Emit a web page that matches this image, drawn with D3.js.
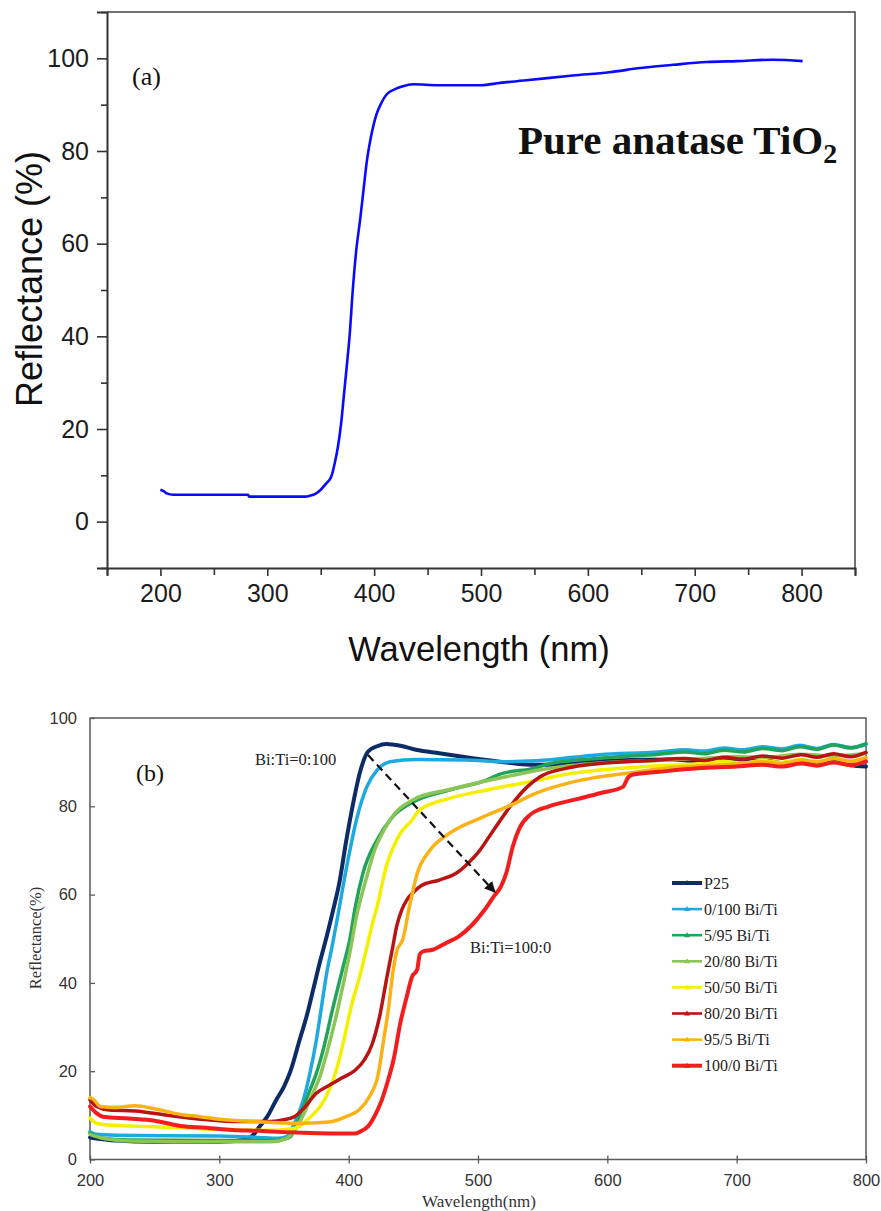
<!DOCTYPE html>
<html>
<head>
<meta charset="utf-8">
<script src="https://cdn.jsdelivr.net/npm/d3@7"></script>
<style>
  html, body { margin: 0; padding: 0; background: #fff; }
  svg { display: block; }
</style>
</head>
<body>
<svg id="fig" width="881" height="1211"></svg>
<script>
// ---------- data: panel (a) pure anatase ----------
const anataseNm = [200,203,206,212,250,282,283,335,340,345,350,355,360,363,366,369,372,375,377,380,383,387,390,393,397,402,407,411.6,420,427,436.5,460,500,518,540,586,620,649,680,711,740,773,801];
const anataseR  = [6.9,6.6,6.1,5.8,5.8,5.8,5.4,5.4,5.6,6,6.9,8.2,9.8,12.5,16,21,28,35,40,50,58,65.4,71.5,77.5,83,87.8,90.5,92.2,93.4,94,94.4,94.2,94.2,94.7,95.2,96.3,97,97.9,98.6,99.2,99.4,99.7,99.4];

// ---------- data: panel (b) Bi/Ti series ----------
const seriesNames  = ["P25","0/100 Bi/Ti","5/95 Bi/Ti","20/80 Bi/Ti","50/50 Bi/Ti","80/20 Bi/Ti","95/5 Bi/Ti","100/0 Bi/Ti"];
const seriesColors = ["#0d2b66","#1ea9e1","#22a35c","#8cc455","#f5f000","#b81414","#fbb215","#f21d1d"];

const p25 = [[200,5],[220,4.3],[250,4],[300,4],[320,4.5],[326,5.5],[331,7.4],[337,9.7],[344,13.5],[350,16.5],[355,20],[362,27],[368,33],[373,39],[378,45],[383,50.5],[388,56.5],[393,63],[398,72],[403,80],[409,88],[415,92.4],[422,93.6],[429,94.1],[440,93.7],[452,92.8],[470,92],[496,90.9],[520,90],[540,89.4],[560,89.4],[580,89.8],[600,90.3],[650,90.6],[670,90.2],[690,90.7],[705,90.1],[720,90.5],[735,89.8],[750,90.4],[762,89.5],[775,90.1],[788,89.3],[800,89]];
const bt0_100 = [[200,6.3],[205,5.7],[220,5.5],[300,5.3],[330,5],[345,4.8],[352,5.2],[358,8.2],[365,13.5],[370,19.5],[375,27],[379,34.6],[383,42.2],[387,48],[391,54.2],[398,65.6],[406,76.9],[414,84.4],[422,88.2],[432,90.1],[452,90.6],[490,90.5],[520,90.1],[545,90.3],[594,91.7],[640,92.3],[660,92.8],[675,92.5],[690,93.2],[705,92.8],[720,93.5],[735,93],[749,93.8],[762,93.1],[775,94],[788,93.3],[800,94]];
const bt5_95 = [[200,6],[210,4.8],[230,4.4],[300,4.3],[340,4.3],[350,4.6],[355,5.2],[362,9.7],[370,15.7],[375,19.5],[380,24.5],[388,34.6],[396,44],[401,50],[405,57],[411,64.8],[422,72.4],[434,77.6],[450,81],[478,83.7],[507,86],[517,87.3],[543,88.6],[556,89.7],[594,90.9],[640,91.8],[660,92.3],[675,91.9],[690,92.7],[705,92.3],[720,93.1],[735,92.6],[749,93.5],[762,92.9],[775,93.9],[788,93.2],[800,94.2]];
const bt20_80 = [[200,5.7],[210,4.8],[230,4.2],[300,4],[340,4],[352,4.8],[358,6.5],[364,9.5],[370,13.5],[378,19],[383,24],[390,32],[396,40],[401,47],[406,55],[413,63],[420,70],[428,75],[436,78.5],[450,81.5],[478,83.8],[507,85.8],[530,87.2],[543,88],[560,88.8],[594,89.8],[640,90.4],[672,90.8],[700,91.3],[720,91],[749,91.8],[775,91.4],[800,92]];
const bt50_50 = [[200,9.4],[205,8.2],[215,7.8],[250,7.4],[300,6.8],[340,6.6],[355,6.9],[362,7.5],[370,9.5],[378,12],[383,14.5],[388,18],[393,23],[397,28],[402,34.6],[409,42],[414,48],[418,53],[422,57.3],[429,66.3],[435,71],[440,73.9],[448,76.5],[455,79.2],[478,81.8],[507,83.7],[530,85],[543,85.7],[560,86.8],[594,88.2],[630,89],[672,89.7],[690,90.2],[705,89.8],[720,90.4],[735,89.9],[749,90.6],[762,90.1],[775,90.8],[788,90.2],[800,91]];
const bt80_20 = [[200,13.5],[205,12],[215,11.2],[235,11],[260,10],[280,9.3],[300,8.8],[320,8.6],[340,8.6],[350,9],[358,9.7],[365,11.5],[375,15],[385,16.8],[395,18.5],[405,20.2],[412,22.5],[418,26],[424,32.5],[430,42],[434,48],[437,52.7],[441,56.5],[445,58.8],[450,60.5],[456,62],[470,63.3],[484,65],[492,67],[500,69.5],[512,74.6],[525,80],[538,84.4],[548,86.7],[568,88.6],[594,89.7],[630,90.3],[660,90.8],[675,90.4],[690,91.1],[705,90.7],[720,91.4],[735,90.9],[750,91.7],[762,91.1],[775,91.9],[788,91.2],[800,92.2]];
const bt95_5 = [[200,14],[203,13.5],[208,12],[220,11.8],[235,12.2],[250,11.5],[270,10.2],[285,9.7],[300,9.1],[320,8.7],[340,8.4],[360,8.2],[385,8.5],[398,9.7],[408,11.2],[416,14.2],[423,19.5],[427,27],[431,34.6],[434,42],[437,47],[442,50],[447,57.3],[453,64.8],[463,70.1],[478,73.9],[504,77.6],[525,80.2],[545,83],[569,85.2],[590,86.5],[615,87.5],[650,88.8],[700,89.6],[720,90.1],[735,89.7],[750,90.5],[762,90],[775,90.8],[788,90.2],[800,91]];
const bt100_0 = [[200,12],[205,10.5],[210,9.7],[230,9.3],[250,8.8],[270,7.6],[290,7.2],[310,6.7],[330,6.5],[350,6.2],[370,6],[390,5.9],[405,5.9],[410,6.5],[415,7.5],[420,9.8],[425,13],[430,17.5],[435,23],[440,31],[445,37],[449,41.4],[453,43],[455,46.5],[458,47.2],[465,47.5],[475,49],[485,50.5],[495,53],[505,56.5],[512,59.5],[518,62],[522,65],[527,71],[532,75],[540,78],[555,80],[575,81.5],[595,83],[612,84.4],[616,86.5],[620,87.2],[640,87.8],[670,88.6],[700,89],[720,89.4],[735,89],[750,89.7],[762,89.2],[775,89.9],[788,89.3],[800,90.2]];
const seriesData = [p25, bt0_100, bt5_95, bt20_80, bt50_50, bt80_20, bt95_5, bt100_0];
const seriesWidths = [4, 3.5, 3.5, 3.5, 3.5, 3.5, 3.5, 4];

const ticksA_x = [200,300,400,500,600,700,800];
const ticksA_y = [0,20,40,60,80,100];
const ticksB_x = [200,300,400,500,600,700,800];
const ticksB_y = [0,20,40,60,80,100];

const svg = d3.select("#fig");

// ======================= panel (a) =======================
const xa = d3.scaleLinear().domain([150, 850]).range([107, 855]);
const ya = d3.scaleLinear().domain([-10, 110]).range([568, 12]);
const ga = svg.append("g").attr("font-family", "'Liberation Sans', Arial, sans-serif");

// frame (top + right)
ga.append("path")
  .attr("d", `M${xa(150)},${ya(110)}H${xa(850)}V${ya(-10)}`)
  .attr("fill", "none").attr("stroke", "#444").attr("stroke-width", 1.5);

// x axis: minor then major
ga.append("g").attr("transform", `translate(0,${ya(-10)})`)
  .call(d3.axisBottom(xa).tickValues(d3.range(150, 851, 100)).tickSize(7).tickFormat(""))
  .call(g => g.select(".domain").remove());
ga.append("g").attr("transform", `translate(0,${ya(-10)})`)
  .call(d3.axisBottom(xa).tickValues(ticksA_x).tickSize(8).tickPadding(8))
  .call(g => g.select(".domain").attr("stroke-width", 2).attr("stroke", "#333"))
  .call(g => g.selectAll(".tick text").attr("font-size", 25).attr("fill", "#1c1c1c"));
ga.selectAll(".tick line").attr("stroke", "#333").attr("stroke-width", 1.6);

// y axis
ga.append("g").attr("transform", `translate(${xa(150)},0)`)
  .call(d3.axisLeft(ya).tickValues([-10,10,30,50,70,90,110]).tickSize(6).tickFormat(""))
  .call(g => g.select(".domain").remove());
ga.append("g").attr("transform", `translate(${xa(150)},0)`)
  .call(d3.axisLeft(ya).tickValues(ticksA_y).tickSize(10).tickPadding(8))
  .call(g => g.select(".domain").attr("stroke-width", 2).attr("stroke", "#333"))
  .call(g => g.selectAll(".tick text").attr("font-size", 25).attr("fill", "#1c1c1c"));
ga.selectAll(".tick line").attr("stroke", "#333").attr("stroke-width", 1.6);

ga.append("text").attr("x", 479).attr("y", 661).attr("text-anchor", "middle")
  .attr("font-size", 34.5).attr("fill", "#111").text("Wavelength (nm)");
ga.append("text").attr("transform", "translate(42,279) rotate(-90)").attr("text-anchor", "middle")
  .attr("font-size", 36).attr("fill", "#111").text("Reflectance (%)");

const lineA = d3.line().x((d, i) => xa(anataseNm[i])).y(d => ya(d)).curve(d3.curveMonotoneX);
ga.append("path").datum(anataseR).attr("d", lineA)
  .attr("fill", "none").attr("stroke", "#0a0aff").attr("stroke-width", 2.6);

ga.append("text").attr("x", 132).attr("y", 85).attr("font-family", "'Liberation Serif', 'Times New Roman', serif")
  .attr("font-size", 26).attr("fill", "#111").text("(a)");
const title = ga.append("text").attr("x", 518).attr("y", 154)
  .attr("font-family", "'Liberation Serif', 'Times New Roman', serif")
  .attr("font-weight", "bold").attr("font-size", 41).attr("fill", "#111");
title.append("tspan").text("Pure anatase TiO");
title.append("tspan").attr("font-size", 28).attr("dy", 9).text("2");

// ======================= panel (b) =======================
const xb = d3.scaleLinear().domain([200, 800]).range([90, 866]);
const yb = d3.scaleLinear().domain([0, 100]).range([1159.5, 718]);
const gb = svg.append("g").attr("font-family", "'Liberation Serif', 'Times New Roman', serif");

gb.append("rect").attr("x", xb(200)).attr("y", yb(100))
  .attr("width", xb(800) - xb(200)).attr("height", yb(0) - yb(100))
  .attr("fill", "none").attr("stroke", "#5a5a5a").attr("stroke-width", 1.5);

// x ticks (cross the axis) + labels
gb.append("g").attr("transform", `translate(0,${yb(0)})`)
  .call(d3.axisBottom(xb).tickValues(ticksB_x).tickSize(4).tickPadding(11))
  .call(g => g.select(".domain").remove())
  .call(g => g.selectAll(".tick line").attr("y1", -4).attr("stroke", "#5a5a5a").attr("stroke-width", 1.3))
  .call(g => g.selectAll(".tick text").attr("font-size", 16.5).attr("fill", "#333"));
// y ticks inward
gb.append("g").attr("transform", `translate(${xb(200)},0)`)
  .call(d3.axisLeft(yb).tickValues(ticksB_y).tickSize(-5).tickPadding(13))
  .call(g => g.select(".domain").remove())
  .call(g => g.selectAll(".tick line").attr("stroke", "#5a5a5a").attr("stroke-width", 1.3))
  .call(g => g.selectAll(".tick text").attr("font-size", 16.5).attr("fill", "#333"));

gb.append("text").attr("x", 479).attr("y", 1207).attr("text-anchor", "middle")
  .attr("font-size", 17).attr("fill", "#333").text("Wavelength(nm)");
gb.append("text").attr("transform", "translate(41,938) rotate(-90)").attr("text-anchor", "middle")
  .attr("font-size", 16.5).attr("fill", "#333").text("Reflectance(%)");

const lineB = d3.line().x(d => xb(d[0])).y(d => yb(d[1])).curve(d3.curveMonotoneX);
gb.append("g").selectAll("path").data(seriesData).join("path")
  .attr("d", lineB).attr("fill", "none")
  .attr("stroke", (d, i) => seriesColors[i])
  .attr("stroke-width", (d, i) => seriesWidths[i])
  .attr("stroke-linejoin", "round").attr("stroke-linecap", "round");

// dashed arrow
const defs = svg.append("defs");
defs.append("marker").attr("id", "ah").attr("viewBox", "0 0 10 10").attr("refX", 9).attr("refY", 5)
  .attr("markerWidth", 5).attr("markerHeight", 5).attr("orient", "auto")
  .append("path").attr("d", "M0,0L10,5L0,10Z").attr("fill", "#111");
gb.append("line")
  .attr("x1", xb(415)).attr("y1", yb(91.6)).attr("x2", xb(513)).attr("y2", yb(60.6))
  .attr("stroke", "#111").attr("stroke-width", 2.2).attr("stroke-dasharray", "8,5")
  .attr("marker-end", "url(#ah)");

gb.append("text").attr("x", 255).attr("y", 765).attr("font-size", 16.5).attr("fill", "#222").text("Bi:Ti=0:100");
gb.append("text").attr("x", 470).attr("y", 953).attr("font-size", 16.5).attr("fill", "#222").text("Bi:Ti=100:0");
gb.append("text").attr("x", 136).attr("y", 781).attr("font-size", 24).attr("fill", "#111").text("(b)");

// legend
const leg = gb.append("g").selectAll("g").data(seriesNames).join("g")
  .attr("transform", (d, i) => `translate(672,${883 + i * 26.1})`);
leg.append("line").attr("x1", 0).attr("x2", 30)
  .attr("stroke", (d, i) => seriesColors[i])
  .attr("stroke-width", (d, i) => i === 0 || i === 7 ? 4 : 2.6);
leg.append("path").attr("d", "M12,2L15,-3L18,2Z").attr("fill", (d, i) => seriesColors[i]);
leg.append("text").attr("x", 32).attr("y", 5.5).attr("font-size", 16).attr("fill", "#222").text(d => d);
</script>
</body>
</html>
